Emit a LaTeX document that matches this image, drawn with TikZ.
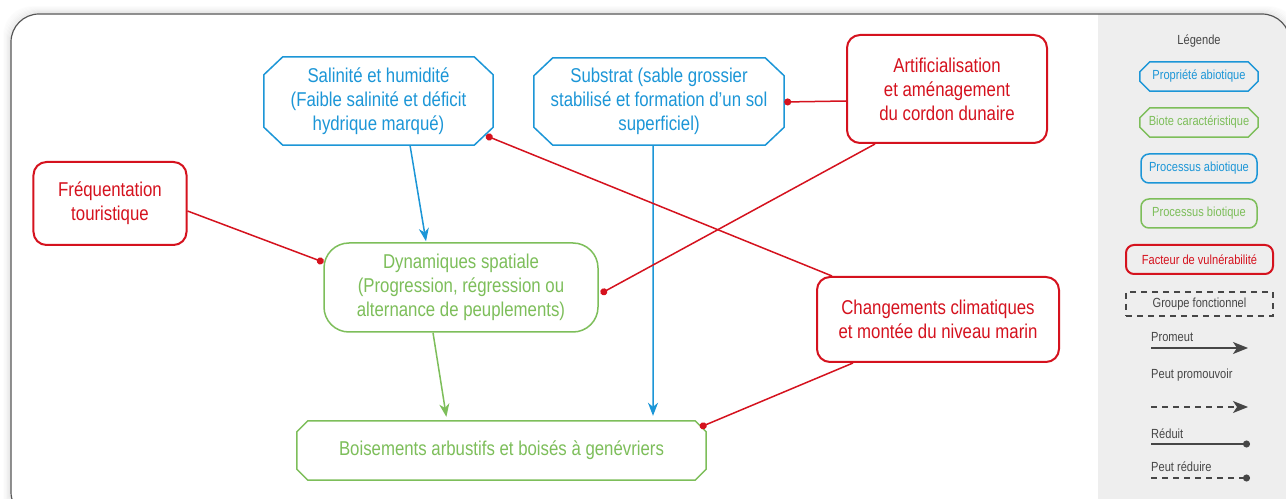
\documentclass[tikz,border=0pt]{standalone}
\usepackage{fontspec}
\setmainfont{Liberation Sans}[FakeStretch=0.84]
\usetikzlibrary{arrows.meta,calc}
\definecolor{blueC}{RGB}{28,150,215}
\definecolor{greenC}{RGB}{125,190,90}
\definecolor{redC}{RGB}{213,18,30}
\definecolor{grayL}{RGB}{70,70,70}
\definecolor{legbg}{RGB}{238,238,238}
\definecolor{frameC}{RGB}{85,85,85}
\newcommand\chamferbox[4]{%
  \draw[#4] ([xshift=#2]#1.north west) -- ([xshift=-#2]#1.north east) -- ([yshift=-#3]#1.north east)
   -- ([yshift=#3]#1.south east) -- ([xshift=-#2]#1.south east) -- ([xshift=#2]#1.south west)
   -- ([yshift=#3]#1.south west) -- ([yshift=-#3]#1.north west) -- cycle;}
\tikzset{
  maintxt/.style={font=\fontsize{20bp}{24bp}\selectfont, align=center, inner sep=0pt},
  legtxt/.style={font=\fontsize{13.2bp}{16bp}\selectfont, inner sep=0pt, align=center},
  redbox/.style={maintxt, draw=redC, line width=2bp, rounded corners=13bp, text=redC},
  greenbox/.style={maintxt, draw=greenC, line width=1.5bp, rounded corners=25bp, text=greenC},
  chamfnode/.style={maintxt, draw=none},
  blueline/.style={draw=blueC, line width=1.5bp},
  greenline/.style={draw=greenC, line width=1.5bp},
  promote/.style={line width=1.5bp, -{Stealth[length=13bp,width=10bp,inset=4bp]}},
  reduce/.style={draw=redC, line width=1.5bp, -{Circle[length=7bp]}},
  legline/.style={draw=grayL, line width=1.4bp},
  legarrow/.style={-{Stealth[length=15bp,width=12bp,inset=4bp]}},
  legdash/.style={dash pattern=on 6bp off 5bp},
}
\begin{document}
\begin{tikzpicture}[x=1bp,y=-1bp]
\useasboundingbox (0,0) rectangle (1286,499);
% frame, shadow, legend background
\begin{scope}
  \clip (0,0) rectangle (1286,499);
  \foreach \i/\o in {1/0.06,2/0.05,3/0.04,4/0.03,5/0.02,6/0.015,7/0.01}{
    \draw[black, opacity=\o, line width=1.5bp, rounded corners=28bp]
      (11-\i,14-\i) rectangle (1290+\i,520+\i);}
  \fill[white, rounded corners=28bp] (11,14) rectangle (1290,520);
  \begin{scope}
    \clip[rounded corners=28bp] (11,14) rectangle (1290,520);
    \fill[legbg] (1098,0) rectangle (1300,530);
  \end{scope}
  \draw[frameC, line width=1.2bp, rounded corners=28bp] (11,14) rectangle (1290,520);
\end{scope}

% main nodes
\node[chamfnode, text=blueC, minimum width=229bp, minimum height=88bp] (sal) at (378.5,101)
  {Salinité et humidité\\(Faible salinité et déficit\\hydrique marqué)};
\chamferbox{sal}{19bp}{18bp}{blueline}
\node[chamfnode, text=blueC, minimum width=250bp, minimum height=87bp] (sub) at (659,101.5)
  {Substrat (sable grossier\\stabilisé et formation d’un sol\\superficiel)};
\chamferbox{sub}{19bp}{18bp}{blueline}
\node[redbox, minimum width=200bp, minimum height=108bp] (art) at (947,89)
  {Artificialisation\\et aménagement\\du cordon dunaire};
\node[redbox, minimum width=153bp, minimum height=83bp] (fre) at (110,203.5)
  {Fréquentation\\touristique};
\node[greenbox, minimum width=274bp, minimum height=89bp] (dyn) at (461,287.5)
  {Dynamiques spatiale\\(Progression, régression ou\\alternance de peuplements)};
\node[redbox, minimum width=242bp, minimum height=85bp] (cha) at (938,319.5)
  {Changements climatiques\\et montée du niveau marin};
\node[chamfnode, text=greenC, minimum width=409bp, minimum height=59bp] (boi) at (501.5,450.5)
  {Boisements arbustifs et boisés à genévriers};
\chamferbox{boi}{11bp}{11bp}{greenline}

% connectors
\draw[blueline, promote, blueC] ([xshift=31.5bp]sal.south) -- ([xshift=-35bp,yshift=1bp]dyn.north);
\draw[blueline, promote, blueC, shorten >=5bp] ([xshift=-6bp]sub.south) -- ([xshift=151.5bp]boi.north);
\draw[greenline, promote, greenC, shorten >=4bp] ([xshift=-28bp]dyn.south) -- ([xshift=-54.5bp]boi.north);
\draw[reduce] ([yshift=-12bp]art.west) -- ([yshift=-0.5bp]sub.east);
\draw[reduce] ([xshift=-72bp]art.south) -- ([xshift=2bp,yshift=-6bp]dyn.east);
\draw[reduce] ([yshift=-7.5bp]fre.east) -- ([xshift=0.3bp,yshift=25.3bp]dyn.west);
\draw[reduce] ([xshift=-106bp]cha.north) -- ([xshift=-7.2bp,yshift=-34.7bp]sal.east);
\draw[reduce] ([xshift=-85bp]cha.south) -- ([xshift=-6.2bp,yshift=-6.4bp]boi.north east);

% legend
\node[legtxt, text=grayL] (ltitle) at (1199,41) {Légende};
\node[legtxt, text=blueC, minimum width=118bp, minimum height=29bp] (lpa) at (1199,76.5) {Propriété abiotique};
\chamferbox{lpa}{10bp}{10bp}{blueline}
\node[legtxt, text=greenC, minimum width=118bp, minimum height=29bp] (lbc) at (1199,122.5) {Biote caractéristique};
\chamferbox{lbc}{10bp}{10bp}{greenline}
\node[legtxt, text=blueC, draw=blueC, line width=1.5bp, rounded corners=8bp, minimum width=116bp, minimum height=29bp] (lpab) at (1199,168.5) {Processus abiotique};
\node[legtxt, text=greenC, draw=greenC, line width=1.5bp, rounded corners=8bp, minimum width=116bp, minimum height=29bp] (lpb) at (1199,213.5) {Processus biotique};
\node[legtxt, text=redC, draw=redC, line width=2bp, rounded corners=8bp, minimum width=147bp, minimum height=29bp] (lfv) at (1199.5,259.5) {Facteur de vulnérabilité};
\node[legtxt, text=grayL, draw=grayL, line width=1.2bp, legdash, minimum width=147bp, minimum height=24bp] (lgf) at (1199.5,304) {Groupe fonctionnel};

\node[legtxt, text=grayL, anchor=west] (lpro) at (1151,337) {Promeut};
\coordinate (p1a) at (1151,348); \coordinate (p1b) at (1248,348);
\draw[legline, legarrow] (p1a) -- (p1b);
\node[legtxt, text=grayL, anchor=west] (lppr) at (1151,375) {Peut promouvoir};
\coordinate (p2a) at (1151,407); \coordinate (p2b) at (1248,407);
\draw[legline, legdash, legarrow] (p2a) -- (p2b);
\node[legtxt, text=grayL, anchor=west] (lred) at (1151,434) {Réduit};
\coordinate (p3a) at (1151,444); \coordinate (p3b) at (1250,444);
\draw[legline, -{Circle[length=7bp]}] (p3a) -- (p3b);
\node[legtxt, text=grayL, anchor=west] (lpre) at (1151,467) {Peut réduire};
\coordinate (p4a) at (1151,478); \coordinate (p4b) at (1250,478);
\draw[legline, legdash, -{Circle[length=7bp]}] (p4a) -- (p4b);
\end{tikzpicture}
\end{document}
